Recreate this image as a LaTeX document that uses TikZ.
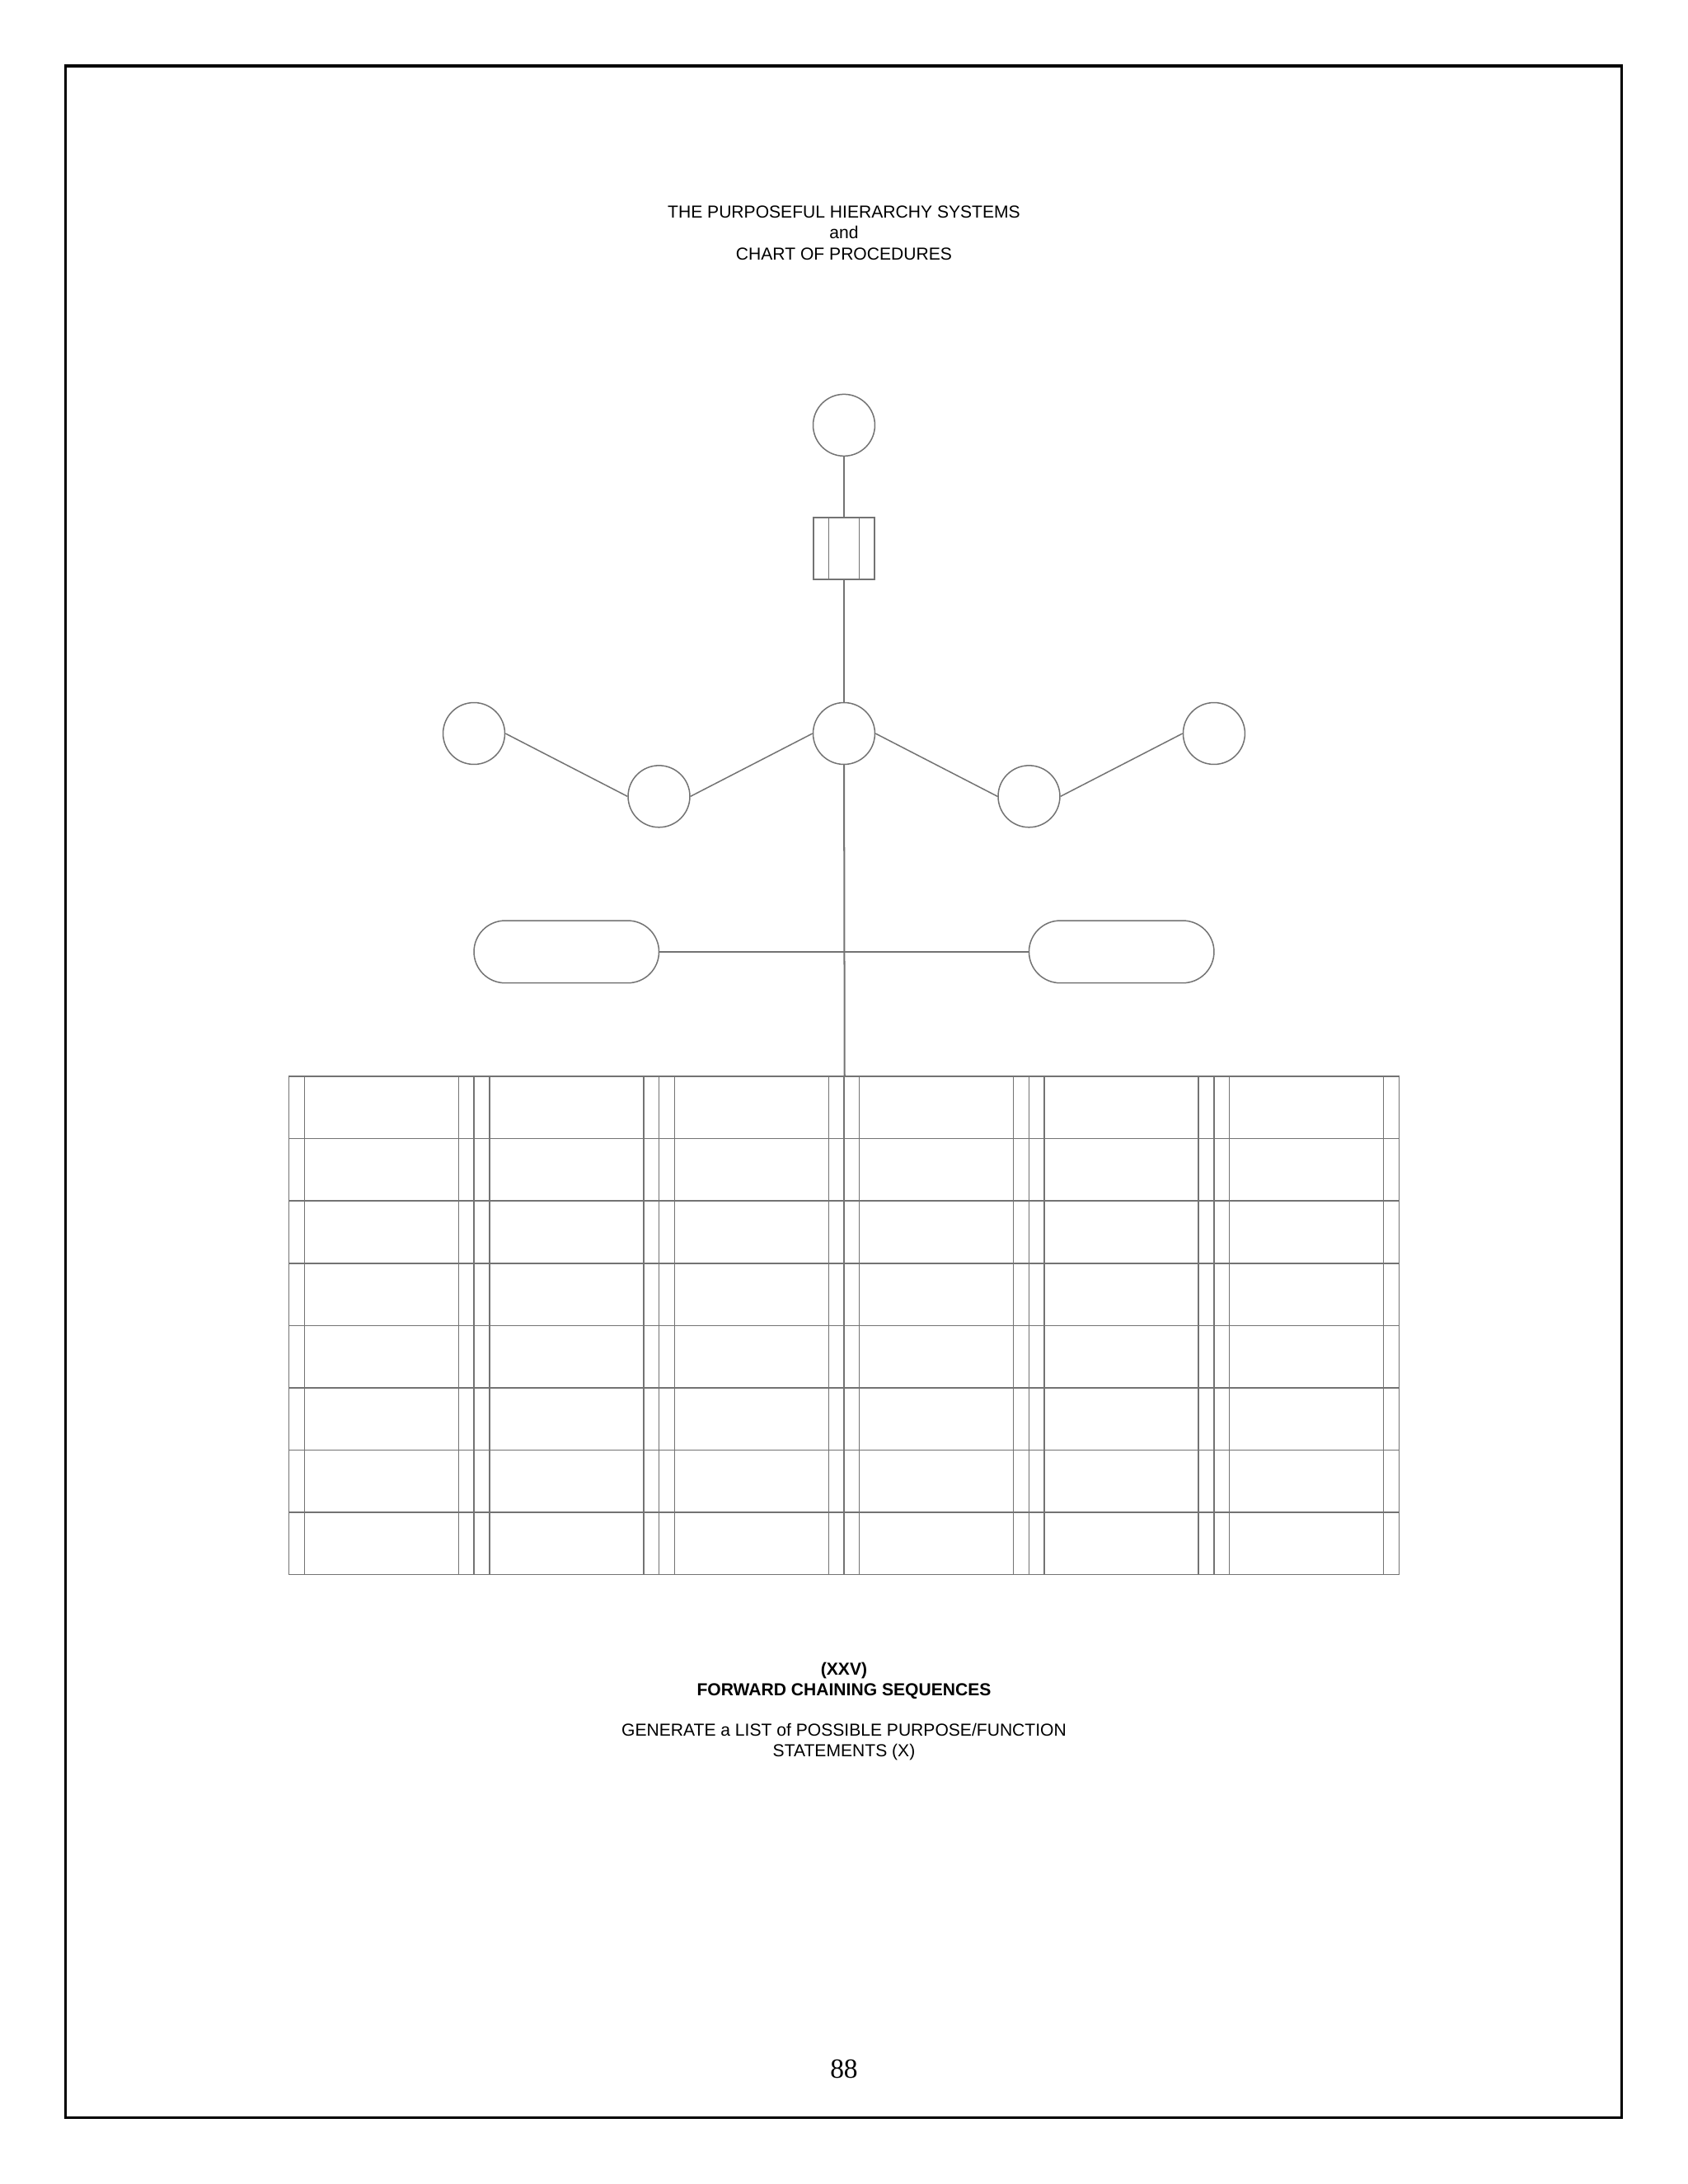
\documentclass[tikz,border=0pt]{standalone}
\usepackage{fontspec}
\setmainfont{Liberation Serif}
\setsansfont{Liberation Sans}

\begin{document}
\begin{tikzpicture}[x=22.36pt, y=22.36pt,
    line/.style={draw=black!55, line width=0.45pt},
    bubble/.style={circle, line, inner sep=0pt, minimum size=22.4pt},
    procbox/.style={rectangle, line, inner sep=0pt, minimum width=67.08pt, minimum height=22.58pt,
        path picture={\draw[black!55, line width=0.45pt]
            ([xshift=5.6pt]path picture bounding box.north west) -- ([xshift=5.6pt]path picture bounding box.south west)
            ([xshift=-5.6pt]path picture bounding box.north east) -- ([xshift=-5.6pt]path picture bounding box.south east);}},
    pill/.style={rectangle, line, rounded corners=11.3pt, inner sep=0pt, minimum width=67.08pt, minimum height=22.6pt},
    words/.style={font=\sffamily\fontsize{6.3}{7.6}\selectfont, align=center}]

    \useasboundingbox (-306pt,265.96pt) rectangle (306pt,-525.94pt);
    \draw[line width=0.9pt] (-282.1pt,242.05pt) rectangle (281.8pt,-501.74pt);

    \node [words] (title) at (0,8.12) {THE PURPOSEFUL HIERARCHY SYSTEMS\\and\\CHART OF PROCEDURES};

    \node [bubble] (top) at (0,5) {};
    \node [procbox, minimum width=22.2pt, minimum height=22.4pt] (gate) at (0,3) {};
    \node [bubble] (hub) at (0,0) {};
    \node [bubble] (farL) at (-6,0) {};
    \node [bubble] (lowL) at (-3,-1.02) {};
    \node [bubble] (lowR) at (3,-1.02) {};
    \node [bubble] (farR) at (6,0) {};
    \node [pill] (pillL) at (-4.5,-3.54) {};
    \node [pill] (pillR) at (4.5,-3.54) {};

    \foreach \i in {1,...,6}
        \foreach \j in {1,...,8}
            \node [procbox] (c-\i-\j) at ({-10.5+3*\i},{-6.065-1.01*(\j-1)}) {};

    \draw [line] (top) -- (gate);
    \draw [line, line width=0.6pt] (gate) -- (hub);
    \draw [line, line width=0.6pt] (hub) -- (c-3-1.north east);
    \draw [line] (farL.east) -- (lowL.west);
    \draw [line] (lowL.east) -- (hub.west);
    \draw [line] (hub.east) -- (lowR.west);
    \draw [line] (lowR.east) -- (farR.west);
    \draw [line] (pillL) -- (pillR);

    \node [words, font=\sffamily\bfseries\fontsize{6.3}{7.6}\selectfont] (caption) at (0,-15.36) {(XXV)\\FORWARD CHAINING SEQUENCES};
    \node [words] (task) at (0,-16.35) {GENERATE a LIST of POSSIBLE PURPOSE/FUNCTION\\STATEMENTS (X)};
    \node [font=\fontsize{10}{12}\selectfont] (pageno) at (0,-21.66) {88};

\end{tikzpicture}
\end{document}
